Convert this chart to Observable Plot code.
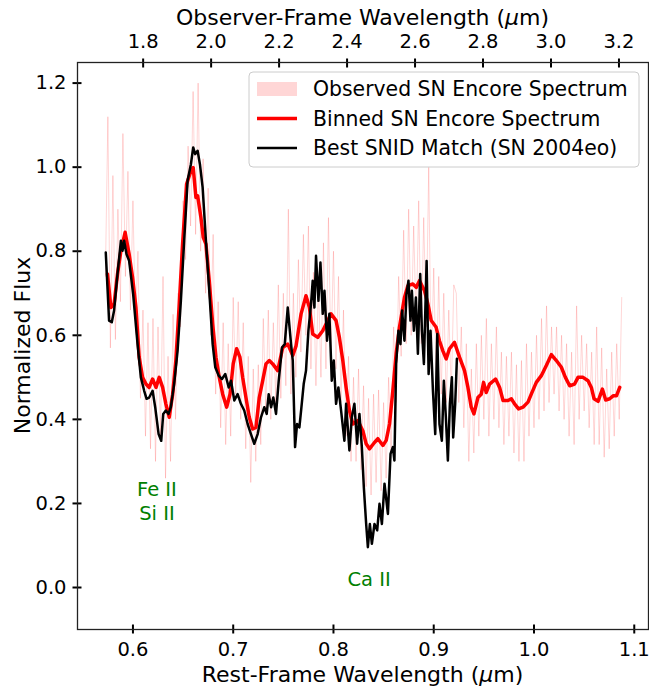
<!DOCTYPE html>
<html><head><meta charset="utf-8">
<script src="https://cdn.jsdelivr.net/npm/d3@7"></script>
<script src="https://cdn.jsdelivr.net/npm/@observablehq/plot@0.6"></script>
<style>body{margin:0;background:#fff} svg{display:block}</style>
</head><body><div id="chart"></div>
<script>
const redshift = 1.95;

const binnedWave = [0.5746,0.578,0.5812,0.5846,0.588,0.5922,0.5962,0.5996,0.603,0.6062,0.6096,0.613,0.6162,0.6196,0.623,0.6262,0.6296,0.6328,0.6362,0.6396,0.6428,0.6462,0.6495,0.6535,0.6578,0.6601,0.6628,0.6645,0.6678,0.6701,0.6728,0.6761,0.6795,0.6828,0.6861,0.6895,0.6935,0.6968,0.7,0.7034,0.7067,0.7094,0.7127,0.716,0.7194,0.7227,0.726,0.7294,0.7327,0.736,0.7394,0.7444,0.7494,0.7544,0.7594,0.7627,0.7677,0.7726,0.776,0.7793,0.7843,0.7893,0.7926,0.7976,0.8026,0.8059,0.8093,0.8126,0.8159,0.8193,0.8243,0.8293,0.8326,0.8359,0.8409,0.8443,0.8493,0.8526,0.8559,0.8592,0.8625,0.8658,0.8708,0.8742,0.8792,0.8825,0.8858,0.8908,0.8942,0.8975,0.9024,0.9057,0.9091,0.9124,0.9157,0.9207,0.9257,0.9307,0.9341,0.9374,0.9401,0.9441,0.9474,0.9497,0.9524,0.9557,0.9617,0.9657,0.9691,0.9741,0.9774,0.9806,0.9846,0.989,0.994,0.9973,1.0023,1.0073,1.0123,1.0173,1.0223,1.0273,1.0313,1.0356,1.0405,1.0439,1.0489,1.0539,1.0572,1.0599,1.0639,1.0682,1.0715,1.0755,1.0789,1.0822,1.0855];
const binnedFlux = [0.746,0.666,0.674,0.746,0.801,0.845,0.793,0.738,0.666,0.548,0.5,0.484,0.476,0.496,0.476,0.5,0.476,0.437,0.405,0.46,0.54,0.674,0.817,0.96,0.991,0.999,0.928,0.932,0.88,0.833,0.817,0.73,0.627,0.548,0.5,0.46,0.429,0.46,0.532,0.568,0.548,0.5,0.452,0.405,0.377,0.381,0.452,0.492,0.532,0.54,0.532,0.516,0.571,0.579,0.552,0.575,0.651,0.694,0.666,0.603,0.595,0.611,0.627,0.651,0.635,0.595,0.54,0.476,0.421,0.389,0.397,0.373,0.342,0.33,0.345,0.354,0.338,0.35,0.389,0.468,0.556,0.619,0.69,0.718,0.722,0.714,0.73,0.706,0.674,0.635,0.619,0.587,0.563,0.544,0.568,0.583,0.548,0.516,0.476,0.429,0.413,0.452,0.46,0.488,0.464,0.484,0.496,0.476,0.445,0.445,0.449,0.437,0.425,0.429,0.441,0.46,0.488,0.504,0.528,0.554,0.54,0.524,0.5,0.48,0.484,0.5,0.5,0.492,0.476,0.449,0.443,0.472,0.446,0.449,0.456,0.456,0.476];

const snidWave = [0.5729,0.5762,0.5789,0.5812,0.5846,0.588,0.5896,0.5912,0.5936,0.5962,0.6002,0.6046,0.6079,0.6112,0.6136,0.6162,0.6196,0.6222,0.6256,0.6282,0.6302,0.6328,0.6355,0.6378,0.6411,0.6445,0.6478,0.6511,0.6545,0.6578,0.6601,0.6621,0.6645,0.6668,0.6695,0.6728,0.6761,0.6795,0.6821,0.6855,0.6888,0.6921,0.6955,0.6978,0.7011,0.7044,0.7077,0.711,0.7144,0.7177,0.721,0.7244,0.7277,0.731,0.7334,0.7354,0.7378,0.74,0.7427,0.7454,0.7487,0.7514,0.7544,0.7577,0.7594,0.7617,0.7637,0.766,0.7677,0.7703,0.7726,0.775,0.7776,0.7793,0.781,0.7826,0.785,0.787,0.7893,0.791,0.7936,0.7959,0.7983,0.8003,0.8026,0.8049,0.8076,0.8109,0.8126,0.8159,0.8183,0.8209,0.8236,0.8259,0.8283,0.8303,0.8326,0.8343,0.8363,0.8383,0.8409,0.8436,0.8459,0.8483,0.8509,0.8543,0.8569,0.8592,0.8608,0.8625,0.8648,0.8668,0.8685,0.8708,0.8728,0.8748,0.8768,0.8782,0.8802,0.8822,0.8842,0.8865,0.8882,0.8902,0.8929,0.8949,0.8968,0.8992,0.9015,0.9035,0.9057,0.9081,0.9101,0.9121,0.9141,0.9161,0.9181,0.9194,0.9214,0.9231];
const snidFlux = [0.797,0.635,0.631,0.659,0.746,0.825,0.801,0.825,0.793,0.777,0.698,0.579,0.5,0.468,0.449,0.452,0.468,0.429,0.365,0.349,0.413,0.421,0.413,0.429,0.484,0.563,0.682,0.825,0.968,1.007,1.047,1.031,1.039,1.007,0.952,0.825,0.706,0.579,0.524,0.504,0.496,0.508,0.476,0.492,0.445,0.46,0.437,0.421,0.389,0.365,0.342,0.365,0.405,0.429,0.413,0.46,0.429,0.452,0.413,0.492,0.571,0.579,0.666,0.579,0.54,0.334,0.389,0.381,0.421,0.484,0.516,0.611,0.674,0.73,0.666,0.789,0.682,0.773,0.651,0.706,0.587,0.651,0.492,0.54,0.437,0.476,0.421,0.349,0.437,0.326,0.405,0.437,0.342,0.413,0.334,0.238,0.151,0.096,0.151,0.104,0.151,0.136,0.199,0.151,0.247,0.175,0.318,0.334,0.302,0.532,0.611,0.579,0.659,0.587,0.698,0.73,0.635,0.706,0.611,0.69,0.556,0.746,0.611,0.532,0.777,0.508,0.611,0.468,0.365,0.603,0.389,0.349,0.492,0.405,0.302,0.437,0.5,0.357,0.437,0.544];

// observed spectrum: sampled every 0.0025 µm starting at 0.5725 µm
const obsStart = 0.5725;
const obsStep = 0.0025;
const obsFlux = [
0.74,1.12,0.57,0.98,0.59,0.90,0.68,1.08,0.74,0.99,
0.66,0.92,0.62,0.80,0.45,0.66,0.36,0.63,0.33,0.64,
0.30,0.62,0.36,0.74,0.26,0.55,0.30,0.65,0.40,0.70,
0.62,0.92,0.78,1.05,0.86,1.18,0.84,1.20,0.80,1.02,
0.70,0.95,0.60,0.84,0.46,0.68,0.38,0.63,0.34,0.58,
0.36,0.69,0.46,0.68,0.40,0.63,0.33,0.55,0.25,0.52,
0.30,0.53,0.34,0.64,0.42,0.66,0.40,0.63,0.44,0.72,
0.45,0.70,0.48,0.90,0.46,0.70,0.50,0.78,0.56,0.84,
0.60,0.86,0.52,0.75,0.48,0.73,0.50,0.82,0.52,0.88,
0.55,0.80,0.52,0.74,0.44,0.66,0.36,0.55,0.30,0.50,
0.30,0.52,0.28,0.48,0.24,0.45,0.22,0.46,0.25,0.47,
0.23,0.44,0.26,0.50,0.32,0.62,0.44,0.74,0.55,0.85,
0.58,0.90,0.60,0.86,0.62,0.92,0.58,0.88,0.62,1.00,
0.52,0.76,0.48,0.74,0.46,0.70,0.44,0.66,0.46,0.72,
0.70,0.44,0.62,0.38,0.58,0.30,0.52,0.32,0.58,0.36,
0.60,0.40,0.64,0.36,0.58,0.40,0.62,0.38,0.56,0.34,
0.55,0.36,0.56,0.32,0.53,0.30,0.54,0.30,0.58,0.36,
0.56,0.38,0.60,0.40,0.64,0.42,0.67,0.44,0.62,0.46,
0.62,0.42,0.60,0.40,0.58,0.36,0.56,0.34,0.67,0.40,
0.60,0.42,0.58,0.38,0.56,0.34,0.62,0.34,0.57,0.31,
0.52,0.33,0.56,0.36,0.58,0.40,0.69];

const restTicks = [0.6, 0.7, 0.8, 0.9, 1.0, 1.1];
const obsTicks = [1.8, 2.0, 2.2, 2.4, 2.6, 2.8, 3.0, 3.2];
const fluxTicks = [0.0, 0.2, 0.4, 0.6, 0.8, 1.0, 1.2];

const lineLabels = [
  {text: "Fe II\nSi II", wave: 0.6239, flux: 0.207},
  {text: "Ca II", wave: 0.8355, flux: 0.021}
];

const legendItems = [
  {label: "Observed SN Encore Spectrum", kind: "patch", color: "red", opacity: 0.16},
  {label: "Binned SN Encore Spectrum", kind: "line", color: "red", width: 3.5},
  {label: "Best SNID Match (SN 2004eo)", kind: "line", color: "black", width: 2.5}
];

const z1 = 1 + redshift;
const obsWave = obsFlux.map((_, i) => obsStart + i * obsStep);
const TICK_FS = 19.5;
const LABEL_FS = 22;
const LEGEND_FS = 20.4;

const chart = Plot.plot({
  width: 649, height: 687,
  marginLeft: 77, marginRight: 1, marginTop: 62, marginBottom: 58,
  style: {fontFamily: "DejaVu Sans", fontSize: TICK_FS + "px", color: "#000", background: "#fff", overflow: "visible"},
  x: {domain: [0.5447, 1.1142]},
  y: {domain: [-0.0999, 1.249]},
  marks: [
    Plot.line(obsWave, {x: d => d, y: (d, i) => obsFlux[i], stroke: "red", strokeOpacity: 0.16, strokeWidth: 1}),
    Plot.line(binnedWave, {x: d => d, y: (d, i) => binnedFlux[i], stroke: "red", strokeWidth: 3.5}),
    Plot.line(snidWave, {x: d => d, y: (d, i) => snidFlux[i], stroke: "black", strokeWidth: 2.5}),
    Plot.text(lineLabels, {x: "wave", y: "flux", text: "text", fill: "green", fontSize: 19.5, lineHeight: 1.25}),
    // ticks (in-out)
    Plot.axisX({anchor: "bottom", ticks: restTicks, tickSize: 9, dy: -4.5, strokeWidth: 2, text: null, label: null}),
    Plot.axisX({anchor: "bottom", ticks: restTicks, tickSize: 0, tickPadding: 13, tickFormat: d => d.toFixed(1), label: null}),
    Plot.axisX({anchor: "top", ticks: obsTicks.map(o => o / z1), tickSize: 9, dy: 4.5, strokeWidth: 2, text: null, label: null}),
    Plot.axisX({anchor: "top", ticks: obsTicks.map(o => o / z1), tickSize: 0, tickPadding: 15, tickFormat: d => (d * z1).toFixed(1), label: null}),
    Plot.axisY({anchor: "left", ticks: fluxTicks, tickSize: 9, dx: 4.5, strokeWidth: 2, text: null, label: null}),
    Plot.axisY({anchor: "left", ticks: fluxTicks, tickSize: 0, tickPadding: 11, tickFormat: d => d.toFixed(1), label: null}),
    Plot.frame({stroke: "#222", strokeWidth: 1.3})
  ]
});

document.getElementById("chart").appendChild(chart);

const svg = d3.select(chart);
function addLabel(parts, x, y, rotate) {
  const t = svg.append("text")
    .attr("text-anchor", "middle")
    .attr("font-family", "DejaVu Sans")
    .attr("font-size", LABEL_FS)
    .attr("fill", "#000")
    .attr("transform", `translate(${x},${y})` + (rotate ? ` rotate(${rotate})` : ""));
  parts.forEach(p => {
    const s = t.append("tspan").text(p.t);
    if (p.i) s.attr("font-style", "italic");
  });
}
addLabel([{t: "Rest-Frame Wavelength ("}, {t: "μ", i: true}, {t: "m)"}], 362.5, 681.5);
addLabel([{t: "Observer-Frame Wavelength ("}, {t: "μ", i: true}, {t: "m)"}], 362.5, 25);
addLabel([{t: "Normalized Flux"}], 30, 345.5, -90);

// legend
const lg = svg.append("g");
lg.append("rect").attr("x", 249).attr("y", 72).attr("width", 390).attr("height", 95)
  .attr("rx", 4).attr("fill", "white").attr("fill-opacity", 0.8).attr("stroke", "#cccccc").attr("stroke-width", 1);
legendItems.forEach((d, i) => {
  const cy = 89 + i * 29.5;
  if (d.kind === "patch") {
    lg.append("rect").attr("x", 257).attr("y", cy - 7).attr("width", 40).attr("height", 14)
      .attr("fill", d.color).attr("fill-opacity", d.opacity);
  } else {
    lg.append("line").attr("x1", 257).attr("x2", 297).attr("y1", cy).attr("y2", cy)
      .attr("stroke", d.color).attr("stroke-width", d.width);
  }
  lg.append("text").attr("x", 313).attr("y", cy).attr("dy", "0.36em")
    .attr("text-anchor", "start")
    .attr("font-family", "DejaVu Sans").attr("font-size", LEGEND_FS).attr("fill", "#000").text(d.label);
});
</script>
</body></html>
